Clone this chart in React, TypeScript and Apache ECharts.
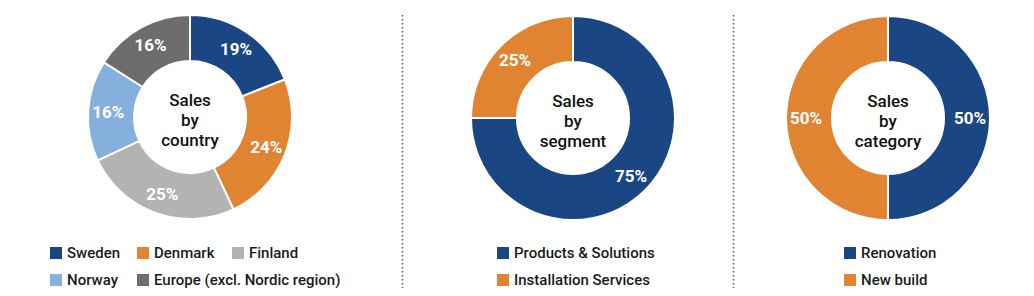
import React, { useEffect, useRef } from "react";
import * as echarts from "echarts";

const countryNames = ["Sweden", "Denmark", "Finland", "Norway", "Europe (excl. Nordic region)"];
const countryValues = [19, 24, 25, 16, 16];
const countryColors = ["#1a4683", "#e08431", "#b3b3b3", "#85afdc", "#6d6d6d"];

const segmentNames = ["Products & Solutions", "Installation Services"];
const segmentValues = [75, 25];
const segmentColors = ["#1a4683", "#e08431"];

const categoryNames = ["Renovation", "New build"];
const categoryValues = [50, 50];
const categoryColors = ["#1a4683", "#e08431"];

const centerTitles = ["Sales\nby\ncountry", "Sales\nby\nsegment", "Sales\nby\ncategory"];

const FONT = "Roboto, 'DejaVu Sans', sans-serif";

export default function App() {
  const ref = useRef<HTMLDivElement>(null);
  useEffect(() => {
    if (!ref.current) return;
    const chart = echarts.init(ref.current, undefined, { renderer: "svg" });

    const centers: [number, number][] = [[190, 117], [573, 118], [888, 118]];

    const makeSeries = (names: string[], values: number[], colors: string[], center: [number, number]) => ({
      type: "pie",
      center,
      radius: [56, 102],
      startAngle: 90,
      clockwise: true,
      avoidLabelOverlap: false,
      emphasis: { disabled: true },
      itemStyle: { borderColor: "#ffffff", borderWidth: 2 },
      label: {
        show: true,
        position: "inside",
        formatter: "{c}%",
        color: "#ffffff",
        fontFamily: FONT,
        fontWeight: "bold",
        fontSize: 17,
      },
      labelLine: { show: false },
      data: names.map((n, i) => ({ name: n, value: values[i], itemStyle: { color: colors[i] } })),
    });

    const legendItem = (name: string, left: number, top: number) => ({
      data: [name],
      left,
      top,
      orient: "horizontal",
      icon: "rect",
      itemWidth: 14,
      itemHeight: 14,
      itemGap: 0,
      padding: 0,
      selectedMode: false,
      textStyle: { fontFamily: FONT, fontSize: 15, fontWeight: 500, color: "#1a1a1a", padding: [0, 0, 0, -1] },
    });

    const legends = [
      legendItem(countryNames[0], 48, 245),
      legendItem(countryNames[1], 135, 245),
      legendItem(countryNames[2], 230, 245),
      legendItem(countryNames[3], 48, 272),
      legendItem(countryNames[4], 135, 272),
      legendItem(segmentNames[0], 495, 245),
      legendItem(segmentNames[1], 495, 272),
      legendItem(categoryNames[0], 842, 245),
      legendItem(categoryNames[1], 842, 272),
    ];

    const graphics: any[] = centers.map((c, i) => ({
      type: "text",
      x: c[0],
      y: c[1] + 3,
      silent: true,
      style: {
        text: centerTitles[i],
        fill: "#111111",
        font: `500 17px ${FONT}`,
        lineHeight: 20,
        align: "center",
        verticalAlign: "middle",
      },
    }));
    [402.5, 733.5].forEach((x) => {
      graphics.push({
        type: "line",
        silent: true,
        shape: { x1: x, y1: 15, x2: x, y2: 288 },
        style: { stroke: "#3f68a8", lineWidth: 1.6, lineDash: [1.6, 2.4] },
      });
    });

    chart.setOption({
      animation: false,
      legend: legends,
      graphic: graphics,
      series: [
        makeSeries(countryNames, countryValues, countryColors, centers[0]),
        makeSeries(segmentNames, segmentValues, segmentColors, centers[1]),
        makeSeries(categoryNames, categoryValues, categoryColors, centers[2]),
      ],
    });
    return () => chart.dispose();
  }, []);
  return (
    <div
      ref={ref}
      style={{ position: "absolute", left: 0, top: 0, width: 1034, height: 296, background: "#ffffff" }}
    />
  );
}
